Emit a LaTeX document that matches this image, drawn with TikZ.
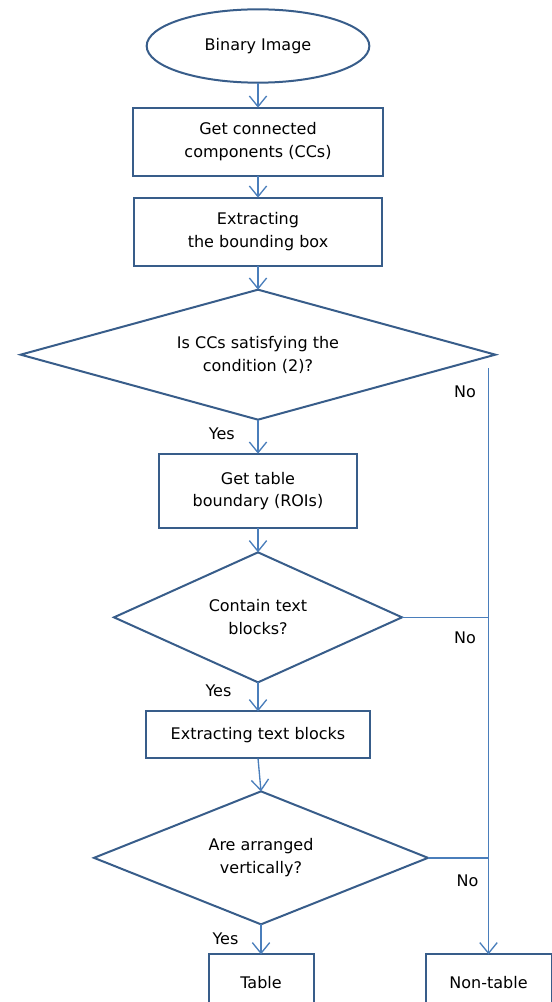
\documentclass[tikz,border=0pt]{standalone}
\usepackage{fontspec}
\setmainfont{DejaVu Sans}
\usetikzlibrary{shapes.geometric, positioning, arrows.meta}
\definecolor{shapeblue}{RGB}{56,93,138}
\definecolor{flowblue}{RGB}{74,126,187}

\begin{document}
\begin{tikzpicture}[
         font=\fontsize{12}{17}\selectfont,
         process/.style={rectangle, draw=shapeblue, line width=1.5pt, align=center, inner sep=0pt, outer sep=0pt},
         decision/.style={diamond, draw=shapeblue, line width=1.5pt, align=center, inner sep=0pt, outer sep=0pt},
         terminal/.style={ellipse, draw=shapeblue, line width=1.5pt, align=center, inner sep=0pt, outer sep=0pt},
         flow/.style={draw=flowblue, line width=1pt, -{Straight Barb[length=8pt,width=13pt]}},
         link/.style={draw=flowblue, line width=1pt},
         answer/.style={inner sep=0pt}
      ]
         \useasboundingbox (0,0) rectangle (414pt,-751.5pt);

         % Nodes for the main flow
         \node[terminal, minimum width=167pt, minimum height=55pt] (binimg) at (193.5pt,-34.5pt) {Binary Image};
         \node[process, minimum width=187.5pt, minimum height=51pt, below=18.75pt of binimg] (getcc) {Get connected\\components (CCs)};
         \node[process, minimum width=186pt, minimum height=51pt, below=16.5pt of getcc] (bbox) {Extracting\\the bounding box};
         \node[decision, aspect=3.65, minimum width=356pt, minimum height=97.5pt, below=18pt of bbox] (cond) {Is CCs satisfying the\\condition (2)?};
         \node[process, minimum width=148pt, minimum height=56pt, below=25.5pt of cond] (roi) {Get table\\boundary (ROIs)};
         \node[decision, aspect=2.2, minimum width=216pt, minimum height=97.5pt, below=18pt of roi] (hastext) {Contain text\\blocks?};
         \node[process, minimum width=168pt, minimum height=35.25pt, below=21.75pt of hastext] (textblk) {Extracting text blocks};
         \node[decision, aspect=2.5, minimum width=250.5pt, minimum height=99.75pt, below=24.75pt of textblk, xshift=2.25pt] (vert) {Are arranged\\vertically?};
         \node[process, minimum width=78.75pt, minimum height=42pt, below=22.5pt of vert] (table) {Table};
         \node[process, minimum width=94.5pt, minimum height=42pt, right=84pt of table] (nontable) {Non-table};

         % Arrows, yes branch
         \draw[flow] (binimg.south) -- (getcc.north);
         \draw[flow] (getcc.south) -- (bbox.north);
         \draw[flow] (bbox.south) -- (cond.north);
         \draw[flow] (cond.south) -- node[answer, pos=0.41, anchor=east, xshift=-17pt] {Yes} (roi.north);
         \draw[flow] (roi.south) -- (hastext.north);
         \draw[flow] (hastext.south) -- node[answer, pos=0.28, anchor=east, xshift=-19.5pt] {Yes} (textblk.north);
         \draw[flow] (textblk.south) -- (vert.north);
         \draw[flow] (vert.south) -- node[answer, pos=0.47, anchor=east, xshift=-16.5pt] {Yes} (table.north);

         % No branch
         \path (cond.east -| nontable.north) ++(0,-10pt) coordinate (nostart);
         \draw[flow] (nostart) -- node[answer, pos=0, anchor=east, xshift=-9pt, yshift=-18pt] {No} (nontable.north);
         \draw[link] (hastext.east) -- node[answer, pos=1, anchor=east, xshift=-9pt, yshift=-15pt] {No} (hastext.east -| nontable.north);
         \draw[link] (vert.east) -- node[answer, pos=1, anchor=east, xshift=-7pt, yshift=-17pt] {No} (vert.east -| nontable.north);

      \end{tikzpicture}
\end{document}
